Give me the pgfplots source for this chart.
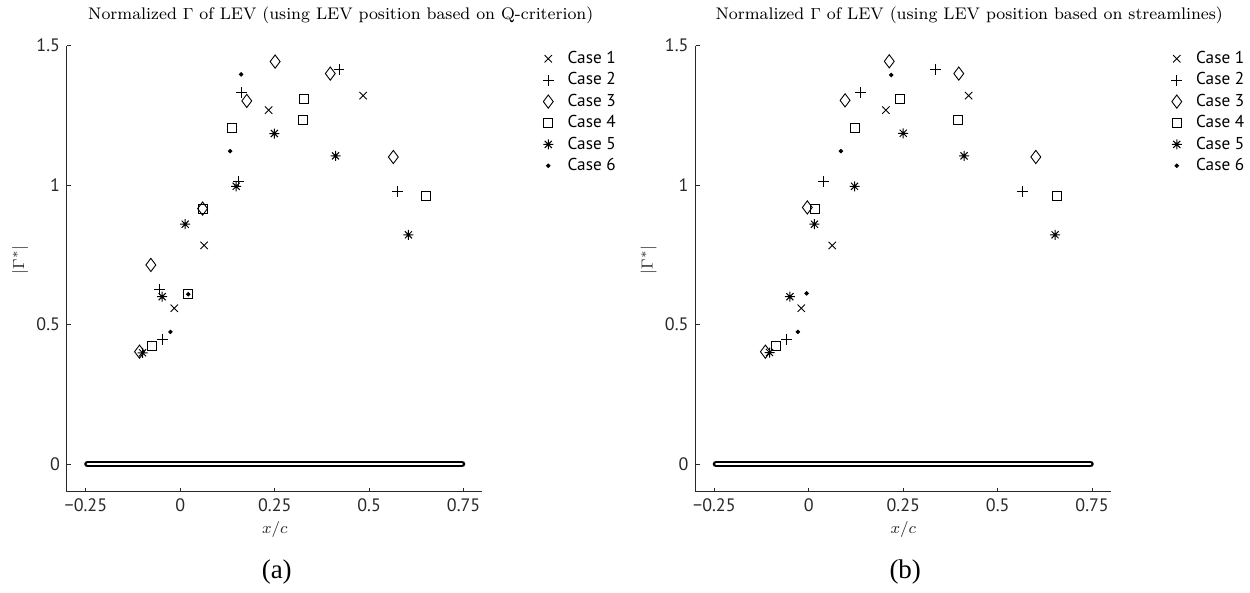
\documentclass[border=0pt]{standalone}
\usepackage{fontspec}
\usepackage{pgfplots}
\pgfplotsset{compat=1.18}
\newfontfamily\lblfont{PT Sans}
\newfontfamily\capfont{Liberation Serif}

\pgfdeclareplotmark{mstar}{%
  \pgfpathmoveto{\pgfqpoint{-\pgfplotmarksize}{0pt}}\pgfpathlineto{\pgfqpoint{\pgfplotmarksize}{0pt}}%
  \pgfpathmoveto{\pgfqpoint{0pt}{-\pgfplotmarksize}}\pgfpathlineto{\pgfqpoint{0pt}{\pgfplotmarksize}}%
  \pgfpathmoveto{\pgfqpoint{-0.7071\pgfplotmarksize}{-0.7071\pgfplotmarksize}}\pgfpathlineto{\pgfqpoint{0.7071\pgfplotmarksize}{0.7071\pgfplotmarksize}}%
  \pgfpathmoveto{\pgfqpoint{-0.7071\pgfplotmarksize}{0.7071\pgfplotmarksize}}\pgfpathlineto{\pgfqpoint{0.7071\pgfplotmarksize}{-0.7071\pgfplotmarksize}}%
  \pgfusepathqstroke}

\definecolor{axgray}{RGB}{40,40,40}

\pgfplotsset{
  myax/.style={
    anchor=south west,
    width=207.75pt, height=223.15pt, scale only axis,
    xmin=-0.3, xmax=0.8, ymin=-0.1, ymax=1.5,
    axis x line=bottom, axis y line=left,
    axis line style={-, axgray, line width=0.5pt},
    tick align=inside, major tick length=2pt,
    tick style={axgray, line width=0.5pt},
    xtick={-0.25,0,0.25,0.5,0.75},
    xticklabels={−0.25,0,0.25,0.5,0.75},
    ytick={0,0.5,1,1.5},
    yticklabels={0,0.5,1,1.5},
    tick label style={font=\lblfont\fontsize{9}{10.8}\selectfont, text=axgray},
    xlabel={$x/c$}, ylabel={$|\Gamma^*|$},
    label style={font=\fontsize{8.3}{10}\selectfont, text=axgray},
    xlabel style={at={(axis description cs:0.5,0)}, anchor=center, yshift=-19pt},
    ylabel style={at={(axis description cs:-0.113,0.52)}, anchor=center},
    title style={font=\fontsize{8.4}{10}\selectfont, at={(axis description cs:0.5,1)}, anchor=center, xshift=33pt, yshift=9.3pt},
    clip=false,
    legend style={draw=none, fill=none, at={(axis description cs:1,1)}, anchor=north west,
      xshift=27pt, yshift=1pt,
      font=\lblfont\fontsize{8.6}{10.3}\selectfont,
      nodes={inner sep=1.5pt, text height=6.2pt, text depth=1.5pt},
      /tikz/every odd column/.append style={column sep=5.5pt}},
    legend cell align=left,
    c1/.style={only marks, mark=x, mark size=2.6pt, black, line width=0.45pt},
    c2/.style={only marks, mark=+, mark size=2.7pt, black, line width=0.45pt},
    c3/.style={only marks, mark=diamond, mark size=3.3pt, black, line width=0.45pt},
    c4/.style={only marks, mark=square, mark size=2.25pt, black, line width=0.45pt},
    c5/.style={only marks, mark=mstar, mark size=2.5pt, black, line width=0.5pt},
    c6/.style={only marks, mark=*, mark size=0.9pt, black},
  }
}

\begin{document}
\begin{tikzpicture}[x=1pt,y=1pt]
\path[use as bounding box] (0,0) rectangle (625,296.5);

% ---------------- (a) ----------------
\begin{axis}[myax, at={(33.5pt,50.5pt)},
  title={Normalized $\Gamma$ of LEV (using LEV position based on Q-criterion)}]
\addplot[forget plot, black, line width=3.4pt, line cap=round] coordinates {(-0.2455,0) (0.7455,0)};
\addplot[forget plot, white, line width=1.1pt, line cap=round] coordinates {(-0.2455,0) (0.7455,0)};
\addplot[c1] coordinates {(0.234,1.269) (0.484,1.321) (0.063,0.784) (-0.016,0.559)};
\addplot[c2] coordinates {(0.420,1.416) (0.161,1.333) (0.154,1.014) (0.575,0.976) (-0.056,0.627) (-0.048,0.448)};
\addplot[c3] coordinates {(0.251,1.443) (0.397,1.400) (0.176,1.302) (0.564,1.101) (0.059,0.916) (-0.078,0.714) (-0.108,0.403)};
\addplot[c4] coordinates {(0.326,1.308) (0.324,1.233) (0.138,1.206) (0.651,0.962) (0.059,0.916) (0.021,0.609) (-0.075,0.423)};
\addplot[c5] coordinates {(0.249,1.185) (0.411,1.105) (0.148,0.996) (0.013,0.860) (0.604,0.822) (-0.048,0.600) (-0.100,0.399)};
\addplot[c6] coordinates {(0.161,1.397) (0.132,1.122) (0.021,0.609) (-0.026,0.474)};
\legend{Case 1,Case 2,Case 3,Case 4,Case 5,Case 6}
\node[font=\capfont\fontsize{13.5}{16}\selectfont, anchor=center] at (axis description cs:0.5,0) [yshift=-40pt, xshift=1pt] {(a)};
\end{axis}

% ---------------- (b) ----------------
\begin{axis}[myax, at={(347.75pt,50.5pt)},
  title={Normalized $\Gamma$ of LEV (using LEV position based on streamlines)}]
\addplot[forget plot, black, line width=3.4pt, line cap=round] coordinates {(-0.2455,0) (0.7455,0)};
\addplot[forget plot, white, line width=1.1pt, line cap=round] coordinates {(-0.2455,0) (0.7455,0)};
\addplot[c1] coordinates {(0.204,1.269) (0.423,1.321) (0.062,0.784) (-0.020,0.559)};
\addplot[c2] coordinates {(0.335,1.416) (0.136,1.332) (0.039,1.012) (0.565,0.976) (-0.059,0.448)};
\addplot[c3] coordinates {(0.213,1.444) (0.397,1.400) (0.096,1.304) (0.601,1.101) (-0.004,0.920) (-0.115,0.403)};
\addplot[c4] coordinates {(0.240,1.308) (0.394,1.233) (0.122,1.205) (0.656,0.962) (0.015,0.916) (-0.086,0.422)};
\addplot[c5] coordinates {(0.250,1.186) (0.411,1.105) (0.121,0.996) (0.015,0.860) (0.652,0.822) (-0.050,0.600) (-0.104,0.400)};
\addplot[c6] coordinates {(0.218,1.395) (0.085,1.122) (-0.006,0.612) (-0.029,0.474)};
\legend{Case 1,Case 2,Case 3,Case 4,Case 5,Case 6}
\node[font=\capfont\fontsize{13.5}{16}\selectfont, anchor=center] at (axis description cs:0.5,0) [yshift=-40pt, xshift=1pt] {(b)};
\end{axis}
\end{tikzpicture}
\end{document}
